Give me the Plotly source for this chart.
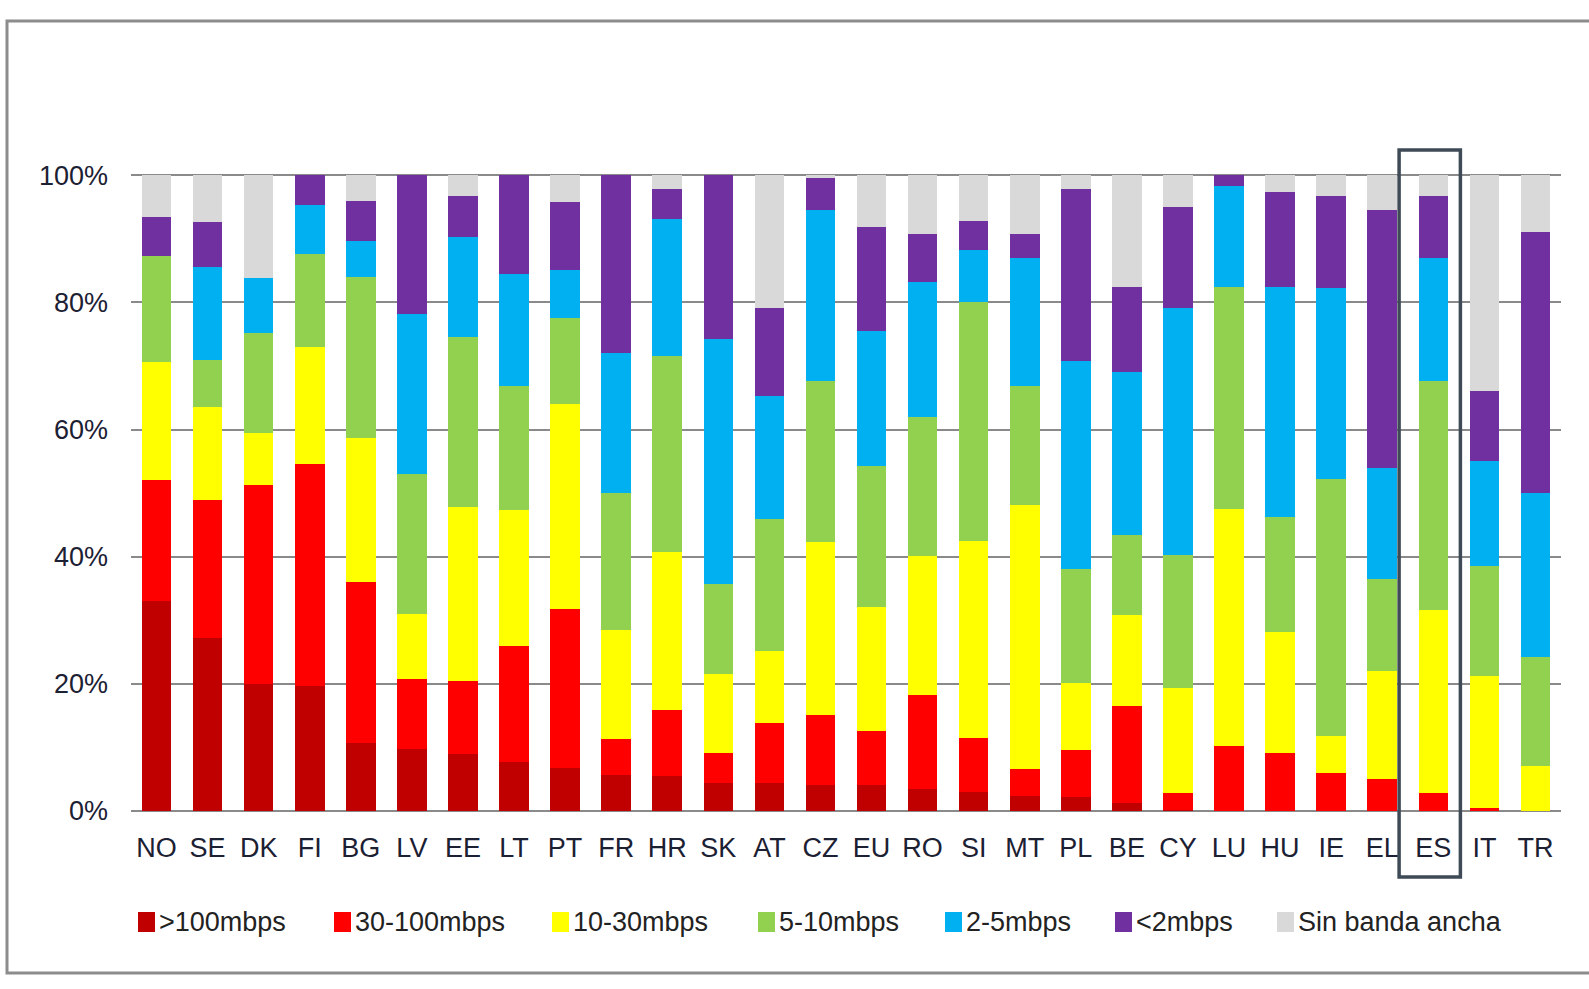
import plotly.graph_objects as go

countries = ["NO", "SE", "DK", "FI", "BG", "LV", "EE", "LT", "PT", "FR", "HR", "SK", "AT", "CZ",
             "EU", "RO", "SI", "MT", "PL", "BE", "CY", "LU", "HU", "IE", "EL", "ES", "IT", "TR"]

over_100 = [33.0, 27.2, 20.0, 19.7, 10.7, 9.7, 8.9, 7.7, 6.8, 5.7, 5.5, 4.4, 4.4, 4.1,
            4.1, 3.4, 3.0, 2.3, 2.2, 1.3, 0.2, 0, 0, 0, 0, 0, 0, 0]
m30_100 = [19.0, 21.7, 31.3, 34.9, 25.3, 11.1, 11.5, 18.3, 24.9, 5.7, 10.4, 4.8, 9.4, 11.0,
           8.5, 14.9, 8.5, 4.3, 7.4, 15.2, 2.6, 10.2, 9.1, 5.9, 5.0, 2.8, 0.4, 0]
m10_30 = [18.7, 14.7, 8.1, 18.4, 22.6, 10.2, 27.4, 21.3, 32.3, 17.1, 24.8, 12.3, 11.4, 27.2,
          19.5, 21.8, 31.0, 41.6, 10.6, 14.3, 16.5, 37.3, 19.0, 5.9, 17.0, 28.8, 20.8, 7.1]
m5_10 = [16.6, 7.3, 15.8, 14.6, 25.4, 22.0, 26.7, 19.6, 13.5, 21.6, 30.8, 14.2, 20.8, 25.3,
         22.1, 21.9, 37.5, 18.7, 17.9, 12.6, 20.9, 34.9, 18.1, 40.5, 14.5, 36.1, 17.3, 17.2]
m2_5 = [0, 14.6, 8.7, 7.7, 5.7, 25.2, 15.8, 17.6, 7.6, 21.9, 21.7, 38.6, 19.3, 27.0,
        21.3, 21.2, 8.2, 20.1, 32.7, 25.7, 38.9, 15.9, 36.2, 29.9, 17.5, 19.3, 16.5, 25.7]
under_2 = [6.2, 7.1, 0, 4.7, 6.3, 21.8, 6.4, 15.5, 10.7, 28.0, 4.7, 25.7, 13.9, 4.9,
           16.4, 7.5, 4.6, 3.7, 27.1, 13.4, 15.9, 1.7, 14.9, 14.6, 40.5, 9.8, 11.1, 41.0]
no_broadband = [6.5, 7.4, 16.1, 0, 4.0, 0, 3.3, 0, 4.2, 0, 2.1, 0, 20.8, 0.5,
                8.1, 9.3, 7.2, 9.3, 2.1, 17.5, 5.0, 0, 2.7, 3.2, 5.5, 3.2, 33.9, 9.0]

series_names = [">100mbps", "30-100mbps", "10-30mbps", "5-10mbps", "2-5mbps", "<2mbps", "Sin banda ancha"]
series_values = [over_100, m30_100, m10_30, m5_10, m2_5, under_2, no_broadband]
series_colors = ["#c00000", "#ff0000", "#ffff00", "#92d050", "#00b0f0", "#7030a0", "#d9d9d9"]

y_ticks = [0, 20, 40, 60, 80, 100]
y_tick_labels = ["0%", "20%", "40%", "60%", "80%", "100%"]
highlight = "ES"

W, H = 1589, 989
L, R, T, B = 131, 28, 174, 178
pw, ph = W - L - R, H - T - B

def px_x(p):
    return (p - L) / pw

def px_y(p):
    return (H - B - p) / ph

fig = go.Figure()
for name, vals, col in zip(series_names, series_values, series_colors):
    fig.add_trace(go.Bar(x=countries, y=vals, name=name, showlegend=False,
                         marker=dict(color=col, line=dict(width=0)),
                         hovertemplate="%{x}: %{y}%<extra>" + name + "</extra>"))

idx = countries.index(highlight)
# highlight box around ES
fig.add_shape(type="rect", xref="x", yref="paper",
              x0=idx - 0.67, x1=idx + 0.53, y0=px_y(877), y1=px_y(150),
              line=dict(color="#3e4a56", width=3.5), layer="above")
# outer frame
fig.add_shape(type="rect", xref="paper", yref="paper",
              x0=px_x(7), x1=px_x(1600), y0=px_y(973), y1=px_y(21),
              line=dict(color="#8c8c8c", width=3), layer="below")

# legend (drawn as swatches + text, laid out like the original)
legend_left_px = [138, 334, 552, 758, 945, 1115, 1277]
legend_mid_px = 922
for name, col, lx in zip(series_names, series_colors, legend_left_px):
    fig.add_shape(type="rect", xref="paper", yref="paper",
                  x0=px_x(lx), x1=px_x(lx + 17), y0=px_y(legend_mid_px + 10), y1=px_y(legend_mid_px - 10),
                  fillcolor=col, line=dict(width=0))
    fig.add_annotation(xref="paper", yref="paper", x=px_x(lx + 19), y=px_y(legend_mid_px),
                       xanchor="left", yanchor="middle", text=name, showarrow=False,
                       font=dict(size=27, color="#222222"))

fig.update_layout(
    width=W, height=H,
    margin=dict(l=L, r=R, t=T, b=B),
    barmode="stack", bargap=0.42,
    plot_bgcolor="white", paper_bgcolor="white",
    font=dict(family="Arial, Liberation Sans, sans-serif", size=27, color="#1c2033"),
    showlegend=False,
    xaxis=dict(showgrid=False, showline=False, ticks="", tickfont=dict(size=27),
               ticklabelstandoff=18, fixedrange=True),
    yaxis=dict(range=[0, 100.2], tickvals=y_ticks, ticktext=y_tick_labels,
               showgrid=True, gridcolor="#8a8a8a", gridwidth=1.6,
               zeroline=True, zerolinecolor="#8a8a8a", zerolinewidth=1.6,
               showline=False, ticks="", ticklabelstandoff=22, tickfont=dict(size=27)),
)

fig.write_html("out.html", config={"displayModeBar": False},
               post_script="document.body.style.margin='0';document.body.style.overflow='hidden';")
